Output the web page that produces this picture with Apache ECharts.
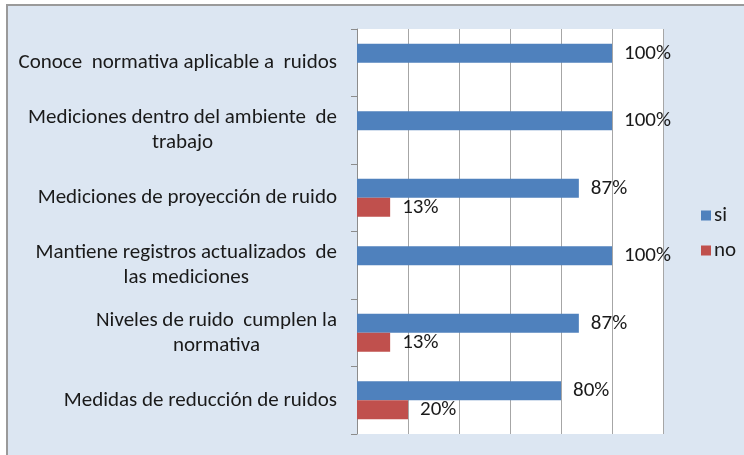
<!DOCTYPE html>
<html>
  <head>
    <meta charset="utf-8" />
    <script src="https://cdn.jsdelivr.net/npm/echarts@6/dist/echarts.min.js"></script>
    <title></title>
    <style type="text/css">
      html, body { margin: 0; padding: 0; background: #ffffff; }
      #demo { width: 744px; height: 455px; }
    </style>
  </head>
  <body>
    <div id="demo"></div>
    <script type="text/javascript">
      // categorias (de arriba hacia abajo)
      var categories = [
        'Conoce  normativa aplicable a  ruidos',
        'Mediciones dentro del ambiente  de\ntrabajo',
        'Mediciones de proyección de ruido',
        'Mantiene registros actualizados  de\nlas mediciones',
        'Niveles de ruido  cumplen la\nnormativa',
        'Medidas de reducción de ruidos'
      ]
      var siValues = [100, 100, 87, 100, 87, 80]
      var noValues = [null, null, 13, null, 13, 20]
      var xTicks = [0, 20, 40, 60, 80, 100, 120]

      var font = "Carlito, 'Liberation Sans Narrow', 'Noto Sans', sans-serif"
      var textColor = '#1a1a1a'

      var valueLabel = {
        show: true,
        position: 'right',
        distance: 12,
        formatter: '{c}%',
        fontFamily: font,
        fontSize: 21,
        color: textColor
      }

      var chart = echarts.init(document.getElementById('demo'))
      var option = {
        backgroundColor: '#ffffff',
        animation: false,
        graphic: [
          {
            type: 'rect',
            z: -10,
            shape: { x: 7, y: 5, width: 800, height: 500 },
            style: { fill: '#dce6f2', stroke: '#9a9a9a', lineWidth: 2 }
          },
          {
            type: 'rect',
            z: -9,
            shape: { x: 357, y: 29, width: 306, height: 405 },
            style: { fill: '#ffffff' }
          }
        ],
        legend: {
          orient: 'vertical',
          left: 696,
          top: 200,
          itemWidth: 10,
          itemHeight: 10,
          itemGap: 14,
          itemStyle: { borderWidth: 0 },
          icon: 'rect',
          textStyle: { fontFamily: font, fontSize: 21, color: textColor, padding: [0, 0, 0, -2] },
          data: ['si', 'no']
        },
        grid: { left: 357, right: 81, top: 29, bottom: 21 },
        xAxis: {
          type: 'value',
          min: xTicks[0],
          max: xTicks[xTicks.length - 1],
          interval: 20,
          axisLine: { show: false },
          axisTick: { show: false },
          axisLabel: { show: false },
          splitLine: { show: true, lineStyle: { color: '#a6a6a6', width: 1 } }
        },
        yAxis: {
          type: 'category',
          inverse: true,
          data: categories,
          axisLine: { show: true, lineStyle: { color: '#8c8c8c', width: 1 } },
          axisTick: { show: true, length: 6, lineStyle: { color: '#8c8c8c' } },
          axisLabel: {
            margin: 20,
            fontFamily: font,
            fontSize: 21,
            lineHeight: 25,
            color: textColor,
            formatter: function (value) {
              return value.split('\n').map(function (l) { return '{c|' + l + '}' }).join('\n')
            },
            rich: {
              c: { align: 'center', fontFamily: font, fontSize: 21, lineHeight: 25, color: textColor }
            }
          }
        },
        series: [
          {
            name: 'si',
            type: 'bar',
            barWidth: 19,
            barGap: '0%',
            itemStyle: { color: '#4f81bd' },
            label: valueLabel,
            data: siValues
          },
          {
            name: 'no',
            type: 'bar',
            barWidth: 19,
            barGap: '0%',
            itemStyle: { color: '#c0504d' },
            label: valueLabel,
            data: noValues
          }
        ]
      }
      chart.setOption(option)
    </script>
  </body>
</html>
